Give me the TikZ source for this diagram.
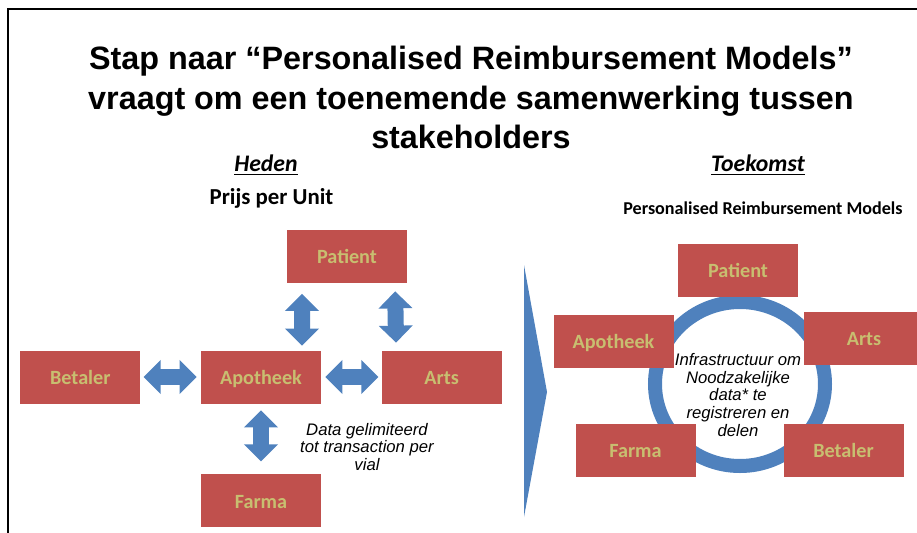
\documentclass[tikz,border=0pt]{standalone}
\usepackage{fontspec}
\setmainfont{Liberation Sans}
\newfontfamily\calfont{Carlito}
\usetikzlibrary{arrows.meta,positioning}

\definecolor{boxred}{RGB}{192,80,77}
\definecolor{boxtxt}{RGB}{200,190,112}
\definecolor{linkblue}{RGB}{79,129,189}

\begin{document}
\begin{tikzpicture}[x=0.2mm,y=-0.2mm,
  actor/.style={fill=boxred,text=boxtxt,font=\calfont\bfseries\fontsize{11.5}{13}\selectfont,
    minimum width=24mm,minimum height=10.6mm,inner sep=0pt,text height=1.9ex,text depth=.3ex},
  link/.style={draw=linkblue,line width=3.2mm,
    {Triangle[width=6.6mm,length=3.4mm]}-{Triangle[width=6.6mm,length=3.4mm]}},
  hdr/.style={font=\calfont\bfseries\itshape\fontsize{13.5}{16}\selectfont},
  remark/.style={font=\itshape\fontsize{9.5}{10.2}\selectfont,align=center}]

\clip (0,0) rectangle (917,533);
\draw[line width=1.1pt] (917,9) -- (8,9) -- (8,533);

% --- title ---
\node[font=\bfseries\fontsize{18.4}{22.3}\selectfont,align=center] (title) at (471,97.5)
  {Stap naar “Personalised Reimbursement Models”\\vraagt om een toenemende samenwerking tussen\\stakeholders};

% --- today: price per unit ---
\node[hdr] (now) at (266,165) {\underline{Heden}};
\node[font=\calfont\bfseries\fontsize{13}{15}\selectfont] (unit) at (271.5,198) {Prijs per Unit};

\node[actor] (apo) at (261,377) {Apotheek};
\node[actor,left=12mm of apo] (bet) {Betaler};
\node[actor,right=12mm of apo] (arts) {Arts};
\node[actor] (pat) at (347,256) {Patient};
\node[actor,below=14mm of apo] (far) {Farma};

\draw[link,shorten <=0.6mm,shorten >=0.8mm] (bet) -- (apo);
\draw[link,shorten <=0.8mm,shorten >=0.6mm] (apo) -- (arts);
\draw[link,shorten <=2.2mm,shorten >=0.9mm] ([xshift=-9mm]pat.south) -- ([xshift=8.2mm]apo.north);
\draw[link,shorten <=1.7mm,shorten >=1.5mm] ([xshift=9.6mm]pat.south) -- ([xshift=-9.1mm]arts.north);
\draw[link,shorten <=1.3mm,shorten >=2.5mm] (apo.south) -- (far.north);

\node[remark] (lim) at (367,447) {Data gelimiteerd\\tot transaction per\\vial};

% --- step to the future ---
\fill[linkblue] (524,265) -- (547,392) -- (524,517) -- cycle;

% --- future: personalised models ---
\node[hdr] (future) at (758,165) {\underline{Toekomst}};
\node[font=\calfont\bfseries\fontsize{10.3}{12}\selectfont] (prm) at (763,208) {Personalised Reimbursement Models};

\coordinate (hub) at (740,384);
\draw[linkblue,line width=2.8mm] (hub) ellipse [x radius=17mm,y radius=16.4mm];

\node[actor] (pat2) at (738,270.5) {Patient};
\node[actor] (apo2) at (613.5,341.5) {Apotheek};
\node[actor] (arts2) at (864,338) {Arts};
\node[actor] (far2) at (635.5,450.5) {Farma};
\node[actor] (bet2) at (843.5,450.5) {Betaler};

\node[remark] (infra) at (738,395) {Infrastructuur om\\Noodzakelijke\\data* te\\registreren en\\delen};
\end{tikzpicture}
\end{document}
